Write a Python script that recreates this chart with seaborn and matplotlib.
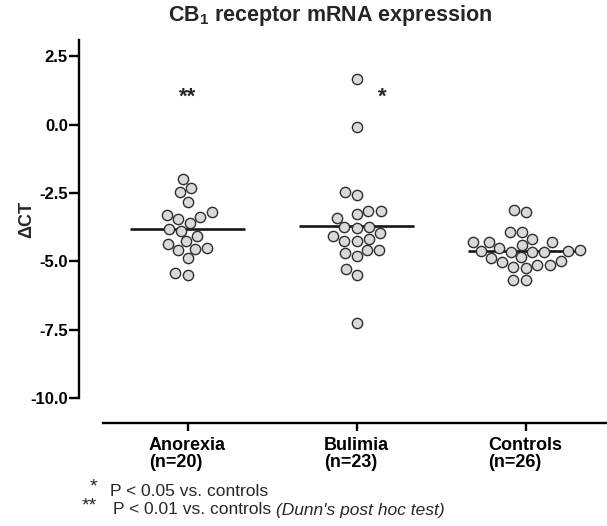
import matplotlib

matplotlib.use("Agg")
import matplotlib.pyplot as plt
import numpy as np
import pandas as pd
import seaborn as sns

# 그룹별 ΔCT 값
groups = ["Anorexia", "Bulimia", "Controls"]
group_sizes = [20, 23, 26]
anorexia_dct = [-1.99, -2.31, -2.47, -2.81, -3.30, -3.45, -3.58, -3.36, -3.20, -3.88,
                -3.82, -4.07, -4.27, -4.37, -4.52, -4.60, -4.55, -4.88, -5.49, -5.43]
bulimia_dct = [1.67, -0.10, -2.47, -2.59, -3.17, -3.42, -3.26, -3.17, -3.75, -3.78,
               -3.76, -4.07, -4.24, -4.24, -4.18, -3.97, -4.60, -4.82, -4.68, -4.58,
               -5.29, -5.49, -7.24]
controls_dct = [-3.20, -3.11, -3.91, -3.94, -4.30, -4.30, -4.40, -4.30, -4.18, -4.60,
                -4.62, -4.64, -4.52, -4.64, -4.62, -4.64, -4.85, -4.97, -4.86, -5.13,
                -5.25, -5.13, -5.01, -5.19, -5.68, -5.68]
y_ticks = [-10.0, -7.5, -5.0, -2.5, 0.0, 2.5]
significance = {"Anorexia": "**", "Bulimia": "*"}

sns.set_style("ticks")
plt.rcParams["font.family"] = ["Liberation Sans", "DejaVu Sans"]
plt.rcParams["mathtext.fontset"] = "custom"
plt.rcParams["mathtext.rm"] = "Liberation Sans"
plt.rcParams["mathtext.bf"] = "Liberation Sans:bold"
plt.rcParams["axes.unicode_minus"] = False

values = {"Anorexia": anorexia_dct, "Bulimia": bulimia_dct, "Controls": controls_dct}
df = pd.DataFrame(
    [(g, v) for g in groups for v in values[g]], columns=["group", "dct"]
)

fig = plt.figure(figsize=(6.07, 5.26), dpi=100)
ax = fig.add_axes([103 / 607, 128 / 526, 507 / 607, 358 / 526])

# 평균선 (점 아래에 그림)
means = df.groupby("group")["dct"].mean().reindex(groups)
pos = np.arange(len(groups))
ax.hlines(means.values, pos - 0.34, pos + 0.34, color="#151515", lw=1.9, zorder=0.9)

sns.swarmplot(
    data=df, x="group", y="dct", order=groups, color="#d9d9d9",
    edgecolor="#2e2e2e", linewidth=1.0, size=7.4, ax=ax, zorder=2,
)

sns.despine(ax=ax)
ax.spines["left"].set_position(("outward", 17.3))
ax.spines["bottom"].set_position(("outward", 18))
for sp in ("left", "bottom"):
    ax.spines[sp].set_linewidth(1.7)
    ax.spines[sp].set_color("black")
ax.tick_params(axis="y", length=7, width=1.7, pad=1, colors="black")
ax.tick_params(axis="x", length=6, width=1.7, pad=4, colors="black")

ax.set_xlim(-0.5, 2.5)
ax.set_ylim(-10, 3.1)
ax.set_yticks(y_ticks, [f"{t:.1f}" for t in y_ticks],
              fontsize=12, fontweight="bold")
ax.set_xticks(pos, [f"{g}\n(n={n})" for g, n in zip(groups, group_sizes)],
              fontsize=13, fontweight="bold", multialignment="left",
              linespacing=1.0)

ax.set_xlabel("")
ax.set_ylabel("ΔCT", fontsize=13, fontweight="bold")
ax.yaxis.set_label_coords(-0.134, 0.5)

# 유의성 표시
for g, mark in significance.items():
    i = groups.index(g)
    dx = 0.0 if mark == "**" else 0.15
    ax.text(i + dx, 1.0, mark, ha="center", va="center", fontsize=16,
            fontweight="bold")

fig.text(0.544, 0.971, r"CB$_{\mathbf{1}}$ receptor mRNA expression",
         ha="center", va="center", fontsize=15.5, fontweight="bold")

fig.text(93 / 607, 1 - 487 / 526, "*", ha="center", va="center", fontsize=14)
fig.text(110 / 607, 1 - 492 / 526, "P < 0.05 vs. controls", ha="left",
         va="center", fontsize=12.5)
fig.text(89 / 607, 1 - 506 / 526, "**", ha="center", va="center", fontsize=14)
t2 = fig.text(113 / 607, 1 - 510 / 526, "P < 0.01 vs. controls ", ha="left",
              va="center", fontsize=12.5)
ax.annotate("(Dunn's post hoc test)", xy=(1, 0.5), xycoords=t2, ha="left",
            va="center", fontsize=12.5, style="italic", annotation_clip=False)

fig.savefig("out.png", dpi=100)
